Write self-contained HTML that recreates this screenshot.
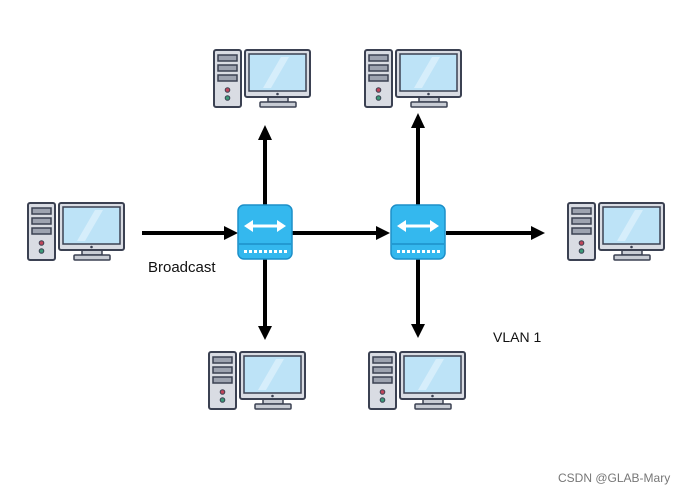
<!DOCTYPE html>
<html><head><meta charset="utf-8"><style>
html,body{margin:0;padding:0;background:#fff;}
svg{display:block;}
text{font-family:"Liberation Sans",sans-serif;}
</style></head><body>
<svg width="700" height="495" viewBox="0 0 700 495" xmlns="http://www.w3.org/2000/svg">
<defs>
<g id="pc">
  <rect x="1" y="1" width="27" height="57" rx="2" fill="#d9dce3" stroke="#3b4152" stroke-width="2"/>
  <rect x="5" y="6" width="19" height="6" fill="#9da3b0" stroke="#3b4152" stroke-width="1.5"/>
  <rect x="5" y="16" width="19" height="6" fill="#9da3b0" stroke="#3b4152" stroke-width="1.5"/>
  <rect x="5" y="26" width="19" height="6" fill="#9da3b0" stroke="#3b4152" stroke-width="1.5"/>
  <circle cx="14.5" cy="41" r="2.3" fill="#c0455a" stroke="#3b4152" stroke-width="1"/>
  <circle cx="14.5" cy="49" r="2.3" fill="#3c9a78" stroke="#3b4152" stroke-width="1"/>
  <rect x="55" y="46" width="20" height="7" fill="#c8ccd4" stroke="#3b4152" stroke-width="1.5"/>
  <rect x="47" y="53" width="36" height="5" rx="1" fill="#c8ccd4" stroke="#3b4152" stroke-width="1.5"/>
  <rect x="32" y="1" width="65" height="47" rx="2" fill="#d9dce3" stroke="#3b4152" stroke-width="2"/>
  <rect x="36" y="5" width="57" height="37" fill="#bde3f7" stroke="#3b4152" stroke-width="1.5"/>
  <polygon points="68,8 76,8 58,39 50,39" fill="#d6eefb"/>
  <circle cx="64.5" cy="45" r="1.3" fill="#3b4152"/>
</g>
<g id="sw">
  <rect x="0" y="0" width="54" height="54" rx="6" fill="#34b8ee" stroke="#1d8fc8" stroke-width="1.5"/>
  <line x1="1" y1="39" x2="53" y2="39" stroke="#1d8fc8" stroke-width="1.5"/>
  <line x1="12" y1="21" x2="42" y2="21" stroke="#fff" stroke-width="3"/>
  <polygon points="6,21 15,15 15,27" fill="#fff"/>
  <polygon points="48,21 39,15 39,27" fill="#fff"/>
  <g fill="#fff">
    <rect x="6" y="45" width="3" height="3"/><rect x="11" y="45" width="3" height="3"/><rect x="16" y="45" width="3" height="3"/><rect x="21" y="45" width="3" height="3"/><rect x="26" y="45" width="3" height="3"/><rect x="31" y="45" width="3" height="3"/><rect x="36" y="45" width="3" height="3"/><rect x="41" y="45" width="3" height="3"/><rect x="46" y="45" width="3" height="3"/>
  </g>
</g>
</defs>
<g stroke="#000" stroke-width="4">
  <line x1="142" y1="233" x2="226" y2="233"/>
  <line x1="292" y1="233" x2="378" y2="233"/>
  <line x1="446" y1="233" x2="532" y2="233"/>
  <line x1="265" y1="205" x2="265" y2="138"/>
  <line x1="418" y1="205" x2="418" y2="126"/>
  <line x1="265" y1="259" x2="265" y2="328"/>
  <line x1="418" y1="259" x2="418" y2="326"/>
</g>
<g fill="#000">
  <polygon points="238,233 224,226 224,240"/>
  <polygon points="390,233 376,226 376,240"/>
  <polygon points="545,233 531,226 531,240"/>
  <polygon points="265,125 258,140 272,140"/>
  <polygon points="418,113 411,128 425,128"/>
  <polygon points="265,340 258,326 272,326"/>
  <polygon points="418,338 411,324 425,324"/>
</g>
<use href="#sw" x="238" y="205"/>
<use href="#sw" x="391" y="205"/>
<use href="#pc" x="213" y="49"/>
<use href="#pc" x="364" y="49"/>
<use href="#pc" x="27" y="202"/>
<use href="#pc" x="567" y="202"/>
<use href="#pc" x="208" y="351"/>
<use href="#pc" x="368" y="351"/>
<text x="148" y="272" font-size="15" fill="#111">Broadcast</text>
<text x="493" y="342" font-size="14" fill="#111">VLAN 1</text>
<text x="558" y="482" font-size="12" fill="#777">CSDN @GLAB-Mary</text>
</svg>
</body></html>
